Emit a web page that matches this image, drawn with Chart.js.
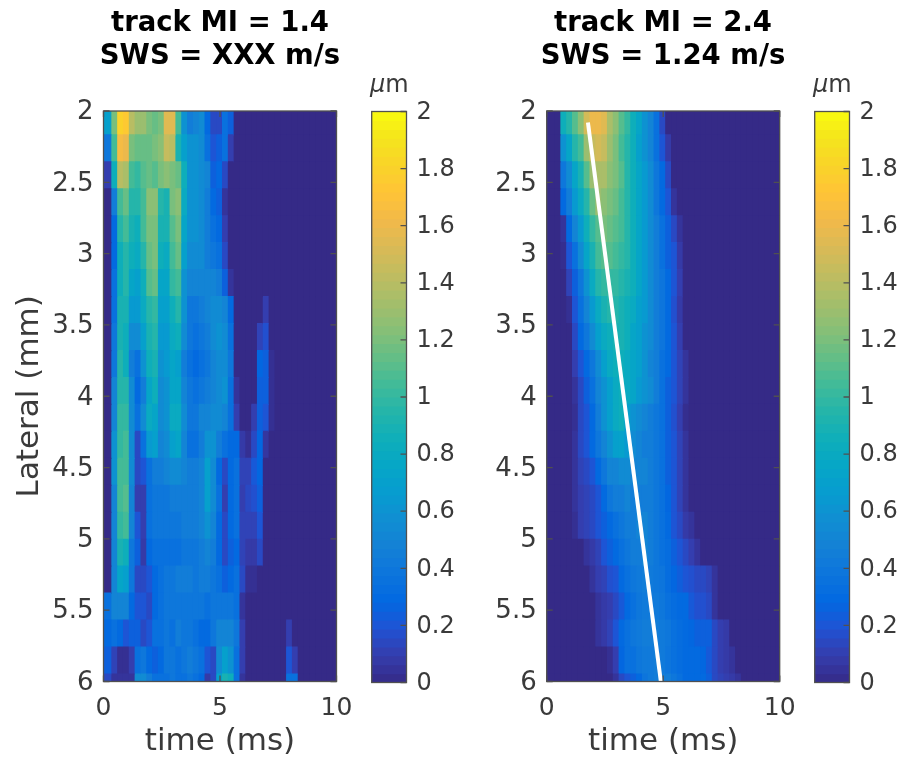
<!DOCTYPE html>
<html>
<head>
<meta charset="utf-8">
<script src="https://cdn.jsdelivr.net/npm/chart.js@4"></script>
<style>
    html, body { margin: 0; padding: 0; background: #fff; overflow: hidden; }
    #page { position: relative; width: 903px; height: 760px; }
    canvas { position: absolute; top: 0; filter: blur(0.6px); }
    .unit { position: absolute; top: 69px; font: 24px "DejaVu Sans"; color: #3a3a3a; line-height: 30px; filter: blur(0.4px); }
</style>
</head>
<body>
<div id="page">
    <canvas id="heatLeft" style="left:0px"></canvas>
    <canvas id="barLeft" style="left:360px"></canvas>
    <canvas id="heatRight" style="left:440px"></canvas>
    <canvas id="barRight" style="left:803px"></canvas>
    <div class="unit" style="left:370px"><i>μ</i>m</div>
    <div class="unit" style="left:813px"><i>μ</i>m</div>
</div>
<script>
    // Values (um). One row per lateral position, one entry per time column
    // missing entries at the end of a row are 0
    var lateral = [2.073, 2.262, 2.451, 2.64, 2.829, 3.018, 3.207, 3.396, 3.585, 3.774, 3.963,
        4.152, 4.341, 4.53, 4.719, 4.908, 5.097, 5.286, 5.475, 5.664, 5.853, 6.042];
    var columnEdges = [0, 0.31, 0.56, 0.81, 1.06, 1.31, 1.56, 1.81, 2.06, 2.31, 2.56, 2.81, 3.06, 3.31, 3.56, 3.81,
        4.06, 4.31, 4.56, 4.81, 5.06, 5.31, 5.56, 5.81, 6.06, 6.31, 6.56, 6.81, 7.06, 7.31, 7.56, 7.81,
        8.06, 8.31, 8.56, 8.81, 9.06, 9.31, 9.56, 9.81, 10];

    var leftValues = [
        [.7,1.2,1.8,1.75,1.4,1.3,1.3,1.2,1.15,1.2,1.55,1.55,1.05,.6,.45,.5,.55,.3,.15,.15,.35,.25],
        [.4,1.05,1.65,1.6,1.2,1.15,1.15,1.15,1.2,1.25,1.45,1.4,.9,.7,.6,.6,.55,.35,.2,.25,.35,.1],
        [.1,.85,1.4,1.35,1.05,1,1.1,1.15,1.1,1.2,1.25,1.2,1.15,.85,.6,.6,.55,.5,.25,.3,.15],
        [0,.45,1.05,1.15,.95,.95,1.05,1.25,1.25,.95,.9,1.2,1.25,.8,.6,.6,.55,.45,.3,.25,.05],
        [0,.3,.95,1.05,.9,.85,1.05,1.2,1.2,.9,.9,1.1,1.2,.75,.6,.6,.55,.45,.35,.3,.1],
        [0,.3,.85,.95,.85,.8,.95,1.15,1.2,.85,.8,1.05,1.15,.7,.55,.55,.55,.45,.4,.35,.15],
        [0,.35,.85,.95,.75,.7,.85,1.1,1.15,.75,.75,1,1.05,.6,.5,.5,.5,.5,.5,.45,.25,.05],
        [0,.35,.9,.9,.65,.65,.8,.95,1,.7,.7,.85,.95,.6,.4,.4,.45,.5,.55,.55,.5,.3,0,0,0,0,0,.1],
        [0,.4,.9,.85,.55,.55,.7,.9,.95,.65,.65,.8,.85,.55,.4,.35,.4,.45,.55,.6,.55,.35,0,0,0,0,.12,.18],
        [0,.4,.95,.85,.45,.35,.6,.85,.9,.6,.65,.75,.7,.45,.35,.3,.35,.4,.5,.55,.55,.4,0,0,0,0,.28,.25,.03],
        [0,.5,.95,.95,.55,.3,.45,.75,.85,.55,.6,.75,.75,.5,.4,.35,.4,.45,.5,.55,.6,.35,.05,0,0,0,.25,.25,.03],
        [0,.5,1,1,.55,.35,.55,.8,.75,.55,.6,.8,.8,.55,.4,.4,.5,.5,.55,.55,.5,.35,.1,0,0,.1,.25,.2,.03],
        [0,.6,1,1.05,.55,.15,.35,.65,.7,.5,.55,.7,.75,.5,.35,.35,.45,.6,.6,.45,.35,.3,.3,.08,.03,.15,.28,.06],
        [0,.6,1.05,1.05,.55,.15,.2,.35,.45,.45,.5,.55,.55,.5,.45,.45,.5,.7,.55,.3,.15,.3,.35,.12,.12,.22,.28],
        [0,.5,1.05,1.1,.5,.1,.1,.35,.4,.4,.4,.45,.45,.45,.45,.45,.5,.7,.55,.35,.1,.3,.35,.1,.15,.18,.25],
        [0,.5,1,1.05,.5,.2,.1,.35,.4,.4,.4,.4,.4,.45,.45,.45,.5,.6,.5,.3,.15,.3,.35,.12,.12,.12,.2],
        [0,.5,.9,.85,.4,.25,.08,.3,.35,.35,.35,.35,.35,.4,.4,.4,.45,.5,.45,.3,.15,.25,.3,.12,.08,.08,.15],
        [0,.5,.75,.7,.4,.15,.15,.2,.3,.35,.4,.4,.45,.45,.45,.4,.45,.45,.4,.35,.25,.3,.35,.15,.03,.03],
        [.35,.5,.5,.5,.3,.2,.2,.15,.3,.35,.4,.4,.4,.4,.4,.4,.4,.35,.4,.4,.4,.4,.35,.05],
        [.3,.35,.3,.2,.25,.25,.15,.2,.35,.35,.4,.35,.45,.4,.4,.35,.3,.3,.4,.5,.5,.5,.4,.1,0,0,0,0,0,0,0,.1],
        [.25,.12,.03,.03,.1,.35,.4,.3,.25,.3,.4,.4,.35,.4,.45,.4,.35,.2,.15,.55,.7,.6,.35,.1,0,0,0,0,0,0,0,.2,.1],
        [.15,.05,.05,.05,.05,.55,.55,.45,.35,.35,.35,.4,.35,.35,.4,.35,.3,.08,.15,.7,.9,.85,.35,.05,0,0,0,0,0,0,0,.35,.35]
    ];

    var rightValues = [
        [0,0,.85,.95,1.1,1.25,1.5,1.6,1.6,1.55,1.35,1.25,1.1,1,.85,.75,.6,.5,.35,.15],
        [0,0,.6,.75,.95,1.05,1.3,1.45,1.5,1.45,1.3,1.2,1.05,.95,.85,.7,.6,.5,.35,.2,.08],
        [0,0,.4,.55,.75,.9,1.1,1.3,1.35,1.35,1.25,1.2,1.1,.95,.85,.75,.65,.55,.4,.3,.15],
        [0,0,.3,.45,.65,.8,.95,1.15,1.3,1.25,1.2,1.15,1.05,.95,.85,.75,.65,.55,.4,.3,.2,.05],
        [0,0,.05,.3,.5,.65,.85,1,1.1,1.2,1.15,1.1,1.05,.95,.85,.75,.65,.55,.45,.35,.25,.15,.05],
        [0,0,.02,.2,.35,.55,.75,.9,1.05,1.1,1.1,1.05,1,.95,.85,.75,.65,.55,.45,.35,.25,.2,.08],
        [0,0,0,.12,.25,.4,.6,.8,.95,1,1,1,.95,.9,.85,.75,.65,.55,.45,.38,.3,.2,.1],
        [0,0,0,.03,.2,.35,.5,.65,.8,.9,.95,.95,.9,.85,.8,.7,.65,.55,.45,.38,.3,.18,.08],
        [0,0,0,0,.15,.3,.4,.55,.7,.8,.85,.9,.9,.85,.75,.7,.6,.55,.45,.38,.3,.2,.1],
        [0,0,0,0,.1,.2,.3,.4,.55,.7,.8,.85,.85,.8,.75,.7,.6,.5,.45,.35,.3,.2,.12,.05],
        [0,0,0,0,.05,.15,.25,.35,.5,.6,.7,.8,.85,.8,.75,.65,.6,.55,.45,.35,.25,.2,.12,.05],
        [0,0,0,0,.03,.15,.2,.3,.45,.6,.7,.8,.85,.7,.6,.55,.5,.45,.4,.35,.25,.18,.1,.02],
        [0,0,0,0,.05,.15,.2,.3,.4,.5,.6,.7,.72,.65,.55,.5,.45,.45,.4,.35,.25,.2,.12,.05],
        [0,0,0,0,.05,.12,.15,.2,.3,.4,.5,.5,.55,.55,.5,.5,.5,.45,.4,.35,.25,.2,.12,.05],
        [0,0,0,0,.05,.1,.12,.15,.2,.3,.4,.45,.45,.5,.45,.45,.45,.45,.4,.35,.28,.2,.12,.05],
        [0,0,0,0,.03,.1,.12,.15,.2,.25,.3,.35,.4,.45,.45,.5,.5,.45,.4,.35,.3,.2,.15,.08,.05],
        [0,0,0,0,0,0,.05,.08,.12,.2,.25,.3,.35,.4,.45,.45,.5,.45,.4,.35,.32,.25,.2,.15,.1,.05],
        [0,0,0,0,0,0,0,.05,.1,.12,.18,.2,.3,.35,.4,.42,.45,.42,.4,.38,.32,.28,.24,.2,.18,.15,.15,.12,.05],
        [0,0,0,0,0,0,0,0,.05,.08,.1,.15,.22,.3,.35,.4,.42,.42,.42,.4,.35,.32,.3,.3,.22,.18,.18,.15,.05],
        [0,0,0,0,0,0,0,0,.05,.08,.12,.2,.3,.35,.4,.42,.45,.45,.45,.42,.4,.35,.32,.3,.28,.25,.25,.25,.15,.1,.08],
        [0,0,0,0,0,0,0,0,0,0,.03,.1,.28,.35,.35,.4,.42,.42,.45,.42,.38,.35,.32,.3,.3,.3,.28,.22,.15,.1,.08,.05],
        [0,0,0,0,0,0,0,0,0,0,0,.05,.15,.2,.25,.3,.38,.42,.45,.45,.45,.4,.35,.3,.3,.3,.3,.25,.15,.12,.1,.08,.05]
    ];

    var trackTime = [1.77, 4.9];
    var trackLateral = [2.08, 6];

    var timeTicks = [0, 5, 10];
    var lateralTicks = [2, 2.5, 3, 3.5, 4, 4.5, 5, 5.5, 6];
    var colorTicks = [0, 0.2, 0.4, 0.6, 0.8, 1, 1.2, 1.4, 1.6, 1.8, 2];

    // parula colormap, limits 0 to 2
    var parulaStops = [
        [.2081,.1663,.5292],[.2081,.2386,.6771],[.1253,.3242,.8303],[.0060,.4086,.8828],[.0498,.4586,.8641],
        [.0779,.5040,.8384],[.0641,.5570,.8240],[.0265,.6137,.8135],[.0228,.6535,.7768],[.0590,.6838,.7254],
        [.1453,.7098,.6646],[.2586,.7317,.5954],[.3953,.7459,.5244],[.5300,.7491,.4661],[.6473,.7456,.4188],
        [.7525,.7384,.3768],[.8507,.7299,.3360],[.9450,.7261,.2886],[.9990,.7653,.2164],[.9789,.8271,.1633],
        [.9589,.8949,.1132],[.9763,.9831,.0538]
    ];

    function parula(v) {
        var p = Math.min(Math.max(v / 2, 0), 1) * (parulaStops.length - 1);
        var i = Math.min(Math.floor(p), parulaStops.length - 2);
        var f = p - i;
        var c = [0, 1, 2].map(function (k) {
            return Math.round(255 * (parulaStops[i][k] + (parulaStops[i + 1][k] - parulaStops[i][k]) * f));
        });
        return "rgb(" + c.join(",") + ")";
    }

    var textColor = "#3a3a3a";
    var frameColor = "#505050";

    // MATLAB style box with ticks pointing inwards
    var boxPlugin = {
        id: "box",
        afterDraw: function (chart, args, opts) {
            var ctx = chart.ctx, a = chart.chartArea, len = 6;
            ctx.save();
            ctx.strokeStyle = frameColor;
            ctx.lineWidth = 1.3;
            ctx.strokeRect(a.left, a.top, a.right - a.left, a.bottom - a.top);
            ctx.beginPath();
            if (chart.scales.x.options.display) {
                chart.scales.x.ticks.forEach(function (t) {
                    var x = chart.scales.x.getPixelForValue(t.value);
                    ctx.moveTo(x, a.bottom); ctx.lineTo(x, a.bottom - len);
                    ctx.moveTo(x, a.top); ctx.lineTo(x, a.top + len);
                });
            }
            chart.scales.y.ticks.forEach(function (t) {
                var y = chart.scales.y.getPixelForValue(t.value);
                ctx.moveTo(a.right, y); ctx.lineTo(a.right - len, y);
                if (chart.scales.x.options.display) {
                    ctx.moveTo(a.left, y); ctx.lineTo(a.left + len, y);
                }
            });
            ctx.stroke();
            ctx.restore();
        }
    };

    function setTicks(values) {
        return function (scale) {
            scale.ticks = values.map(function (v) { return { value: v }; });
        };
    }

    function tickLabel(v) { return String(v); }

    // canvas is as wide as twice the plot centre, the full size title then sits over the plot
    // an empty right axis keeps the plot at its place inside that width
    function drawHeat(id, axisLeft, canvasWidth, titleLines, rows, yTitle, track) {
        var canvas = document.getElementById(id);
        canvas.width = canvasWidth;
        canvas.height = 760;
        canvas.style.width = canvasWidth + "px";
        canvas.style.height = "760px";

        var datasets = columnEdges.slice(0, -1).map(function (edge, c) {
            return {
                data: lateral.map(function (y) { return { y: y, x: [edge, columnEdges[c + 1]] }; }),
                backgroundColor: rows.map(function (row) { return parula(row[c] || 0); }),
                borderWidth: 0,
                inflateAmount: 0.6,
                grouped: false,
                categoryPercentage: 1,
                barPercentage: 1,
                yAxisID: "y",
                order: 1
            };
        });
        if (track) {
            datasets.push({
                type: "line",
                data: track.map(function (x, i) { return { x: x, y: trackLateral[i] }; }),
                borderColor: "#ffffff",
                borderWidth: 4,
                pointRadius: 0,
                fill: false,
                yAxisID: "y",
                order: 0
            });
        }

        return new Chart(canvas.getContext("2d"), {
            type: "bar",
            data: { datasets: datasets },
            plugins: [boxPlugin],
            options: {
                indexAxis: "y",
                responsive: false,
                animation: false,
                events: [],
                layout: { padding: 0 },
                plugins: {
                    legend: { display: false },
                    tooltip: { enabled: false },
                    title: {
                        display: true,
                        text: titleLines,
                        color: "#000000",
                        font: { family: "DejaVu Sans", size: 27.5, weight: "bold", lineHeight: 33 / 27.5 },
                        padding: { top: 7.5, bottom: 37.5 }
                    }
                },
                scales: {
                    x: {
                        type: "linear",
                        min: 0,
                        max: 10,
                        afterBuildTicks: setTicks(timeTicks),
                        afterFit: function (scale) { scale.height = 78.5; },
                        grid: { display: false, drawTicks: false },
                        border: { display: false },
                        ticks: {
                            color: textColor,
                            padding: 12,
                            maxRotation: 0,
                            autoSkip: false,
                            font: { family: "DejaVu Sans", size: 25 },
                            callback: tickLabel
                        },
                        title: {
                            display: true,
                            text: "time (ms)",
                            color: textColor,
                            font: { family: "DejaVu Sans", size: 31 },
                            padding: { top: 0, bottom: -1 }
                        }
                    },
                    y: {
                        type: "linear",
                        reverse: true,
                        min: 2,
                        max: 6,
                        offset: false,
                        afterBuildTicks: setTicks(lateralTicks),
                        afterFit: function (scale) { scale.width = axisLeft; },
                        grid: { display: false, drawTicks: false, offset: false },
                        border: { display: false },
                        ticks: {
                            color: textColor,
                            padding: 10,
                            autoSkip: false,
                            labelOffset: 1.5,
                            font: { family: "DejaVu Sans", size: 26 },
                            callback: tickLabel
                        },
                        title: {
                            display: yTitle !== "",
                            text: yTitle,
                            color: textColor,
                            font: { family: "DejaVu Sans", size: 31 },
                            padding: { top: 11, bottom: 0 }
                        }
                    },
                    spacer: {
                        type: "linear",
                        axis: "y",
                        position: "right",
                        afterFit: function (scale) { scale.width = canvasWidth - axisLeft - 233; },
                        grid: { display: false, drawTicks: false },
                        border: { display: false },
                        ticks: { display: false }
                    }
                }
            }
        });
    }

    function drawColorbar(id) {
        var canvas = document.getElementById(id);
        canvas.width = 100;
        canvas.height = 760;
        canvas.style.width = "100px";
        canvas.style.height = "760px";

        // 64 level bar, same as the colormap of the heatmaps
        var levels = Array.from({ length: 64 }, function (_, i) { return (i + 0.5) / 32; });

        return new Chart(canvas.getContext("2d"), {
            type: "bar",
            data: {
                datasets: [{
                    data: levels.map(function (v) { return { y: v, x: [0, 1] }; }),
                    backgroundColor: levels.map(parula),
                    borderWidth: 0,
                    inflateAmount: 0.6,
                    categoryPercentage: 1,
                    barPercentage: 1
                }]
            },
            plugins: [boxPlugin],
            options: {
                indexAxis: "y",
                responsive: false,
                animation: false,
                events: [],
                layout: { padding: { left: 11.7, right: 0, top: 111.5, bottom: 77.5 } },
                plugins: { legend: { display: false }, tooltip: { enabled: false } },
                scales: {
                    x: { type: "linear", min: 0, max: 1, display: false },
                    y: {
                        type: "linear",
                        position: "right",
                        min: 0,
                        max: 2,
                        offset: false,
                        afterBuildTicks: setTicks(colorTicks),
                        afterFit: function (scale) { scale.width = 53.5; },
                        grid: { display: false, drawTicks: false, offset: false },
                        border: { display: false },
                        ticks: {
                            color: textColor,
                            padding: 10,
                            autoSkip: false,
                            labelOffset: 1,
                            font: { family: "DejaVu Sans", size: 24 },
                            callback: tickLabel
                        }
                    }
                }
            }
        });
    }

    drawHeat("heatLeft", 103.5, 440, ["track MI = 1.4", "SWS = XXX m/s"], leftValues, "Lateral (mm)", null);
    drawHeat("heatRight", 106.7, 446, ["track MI = 2.4", "SWS = 1.24 m/s"], rightValues, "", trackTime);
    drawColorbar("barLeft");
    drawColorbar("barRight");
</script>
</body>
</html>
